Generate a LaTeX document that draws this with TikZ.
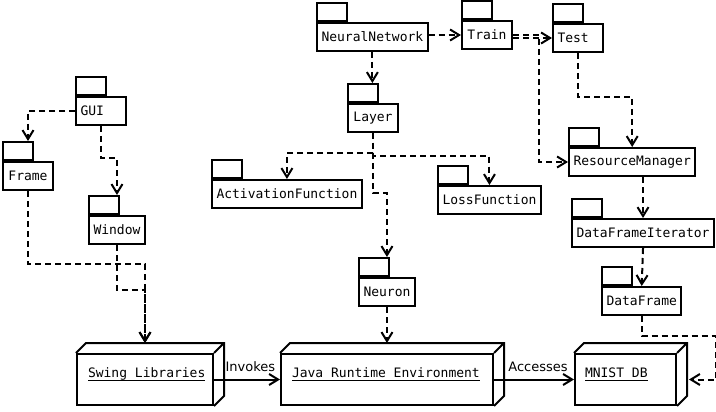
\documentclass[tikz,border=0pt]{standalone}
\usepackage{fontspec}
\setmainfont{DejaVu Sans}
\setmonofont{DejaVu Sans Mono}
\usetikzlibrary{arrows.meta}

% underlined device name, rule a bit under the baseline
\newcommand{\devname}[1]{\setbox0\hbox{#1}\rlap{\rule[-3.5pt]{\wd0}{1pt}}\box0}
% one mono cell of blank
\newcommand{\monosp}{\hphantom{x}}

\begin{document}
\begin{tikzpicture}[x=1pt, y=-1pt, line width=2pt,
  pkg/.style={draw, anchor=north west, minimum width=50pt, minimum height=28pt,
    inner xsep=4.5pt, inner ysep=0pt, font=\fontsize{13}{15}\selectfont\ttfamily},
  short/.style={text width=41pt, align=left},
  tab/.style={draw, anchor=south west, minimum width=30pt, minimum height=18pt, inner sep=0pt},
  dev/.style={draw, anchor=north west, text width=#1, align=left, inner xsep=0pt,
    inner ysep=0pt, text height=23pt, text depth=28pt, font=\fontsize{13}{15}\selectfont\ttfamily},
  dep/.style={line width=2pt, dash pattern=on 6pt off 4pt, -{Straight Barb[length=9pt,width=11pt]}},
  use/.style={line width=2pt, -{Straight Barb[length=9pt,width=11pt]}},
  lbl/.style={above=6pt, inner sep=1pt, font=\fontsize{13}{15}\selectfont}]
  \useasboundingbox (0,0) rectangle (716,412);

  % GUI packages
  \node[pkg, short] (gui) at (75,96) {GUI};
  \node[pkg] (frame) at (2,161) {Frame};
  \node[pkg] (window) at (88,215) {Window};

  % network packages
  \node[pkg] (nn) at (316,22) {NeuralNetwork};
  \node[pkg] (train) at (461,20) {Train};
  \node[pkg, short] (test) at (552,23) {Test};
  \node[pkg] (layer) at (347,103) {Layer};
  \node[pkg] (af) at (211,179) {ActivationFunction};
  \node[pkg] (lf) at (437,185) {LossFunction};
  \node[pkg] (neuron) at (358,277) {Neuron};

  % data packages
  \node[pkg] (rm) at (568,147) {ResourceManager};
  \node[pkg] (dfi) at (571,218) {DataFrameIterator};
  \node[pkg] (df) at (601,286) {DataFrame};

  % package tabs
  \foreach \p in {gui,frame,window,nn,train,test,layer,af,lf,neuron,rm,dfi,df}
    \node[tab] (\p-t) at (\p.north west) {};

  % devices
  \node[dev=136pt] (swing) at (76,353) {\hspace*{11pt}\devname{Swing\monosp Libraries}};
  \node[dev=212pt] (jre) at (280,353) {\hspace*{11pt}\devname{Java\monosp Runtime\monosp Environment}};
  \node[dev=101pt] (mnist) at (574,353) {\hspace*{10pt}\devname{MNIST\monosp DB}};
  \foreach \d in {swing,jre,mnist} {
    \draw (\d.north west) -- ++(10,-10) -| ([shift={(10,-10)}]\d.south east) -- (\d.south east)
          (\d.north east) -- ++(10,-10);
    \coordinate (\d-top) at ([yshift=10pt]\d.north);
  }

  % dependencies
  \draw[dep] (train.west -| nn.east) -- (train.west);
  \draw[dep] (test.west -| train.east) -- (test.west);
  \draw[dep] (train.east) -- ++(26,0) |- (rm.west);
  \draw[dep] (test.south) -- ++(0,44) -| (rm.north);
  \draw[dep] (nn.south) -- (nn.south |- layer-t.north);
  \draw[dep] (layer.south) -- ++(0,20) -| (af.north);
  \draw[dep] (layer.south) -- ++(0,23) -| (lf.north);
  \draw[dep] (layer.south) -- ++(0,60) -| (neuron.north |- neuron-t.north);
  \draw[dep] (neuron.south) -- (neuron.south |- jre-top);
  \draw[dep] (gui.west) -| (frame.north |- frame-t.north);
  \draw[dep] (gui.south) -- ++(0,32) -| (window.north |- window-t.north);
  \draw[dep] (frame.south) -- ++(0,73) -| (swing-top);
  \draw[dep] (window.south) -- ++(0,45) -| (swing-top);
  \draw[dep] (dfi.north |- rm.south) -- (dfi.north);
  \draw[dep] (dfi.south) -- (df.north);
  \draw[dep] (df.south) -- ++(0,20) -| ([xshift=39pt]mnist.east) -- ([xshift=12pt]mnist.east);

  % communication
  \draw[use] (swing.east) -- node[lbl, pos=0.55] (inv) {Invokes} (jre.west);
  \draw[use] (jre.east) -- node[lbl, pos=0.55] (acc) {Accesses} (mnist.west);
\end{tikzpicture}
\end{document}
